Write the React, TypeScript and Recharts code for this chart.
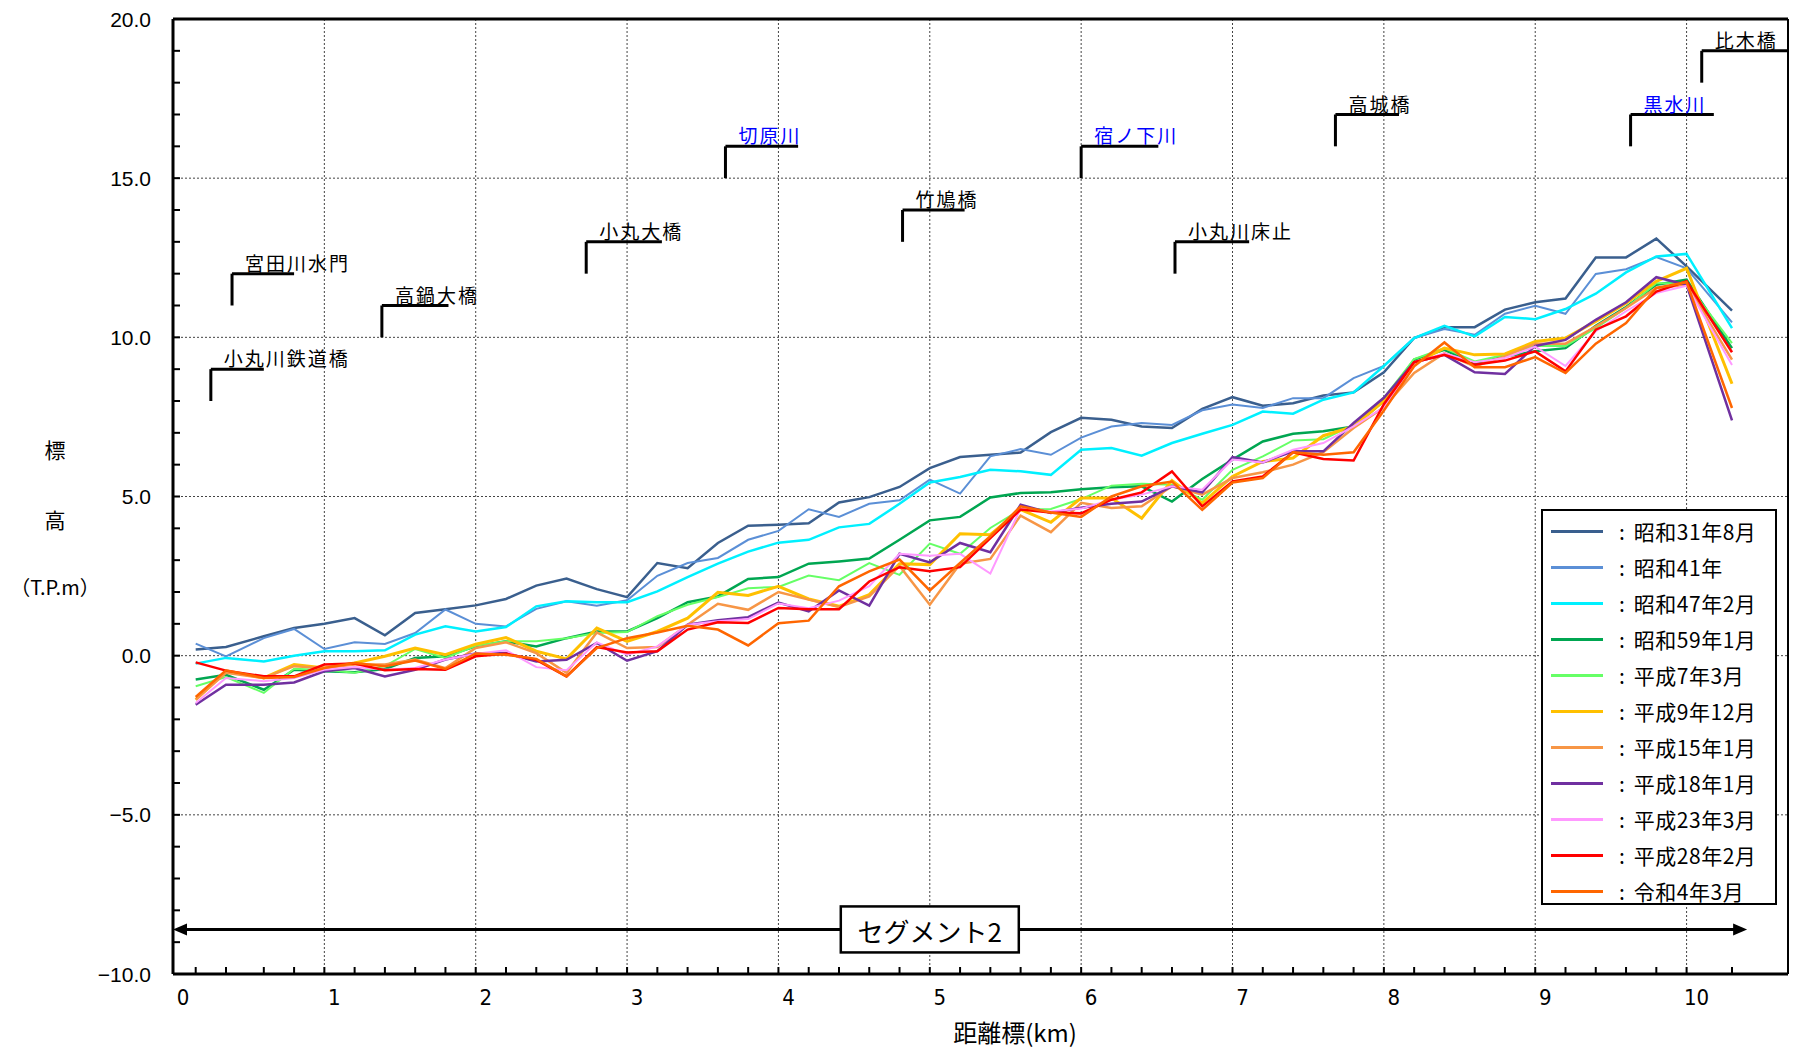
import {
  LineChart,
  Line,
  XAxis,
  YAxis,
  CartesianGrid,
  ReferenceLine,
  ReferenceDot,
} from 'recharts'

// distance marks (km) of the surveyed cross sections
const distances = [
  0.15, 0.35, 0.6, 0.8, 1.0, 1.2, 1.4, 1.6, 1.8, 2.0,
  2.2, 2.4, 2.6, 2.8, 3.0, 3.2, 3.4, 3.6, 3.8, 4.0,
  4.2, 4.4, 4.6, 4.8, 5.0, 5.2, 5.4, 5.6, 5.8, 6.0,
  6.2, 6.4, 6.6, 6.8, 7.0, 7.2, 7.4, 7.6, 7.8, 8.0,
  8.2, 8.4, 8.6, 8.8, 9.0, 9.2, 9.4, 9.6, 9.8, 10.0, 10.3,
]

const s31 = [
  0.19, 0.27, 0.61, 0.87, 1.0, 1.18, 0.64, 1.34, 1.46, 1.58,
  1.78, 2.2, 2.42, 2.09, 1.84, 2.91, 2.75, 3.54, 4.08, 4.11,
  4.16, 4.81, 4.98, 5.3, 5.89, 6.24, 6.31, 6.38, 7.02, 7.47,
  7.41, 7.2, 7.15, 7.75, 8.12, 7.85, 7.93, 8.17, 8.27, 8.9,
  9.98, 10.32, 10.32, 10.87, 11.1, 11.22, 12.51, 12.51, 13.1, 12.23, 10.84,
]
const s41 = [
  0.38, -0.02, 0.55, 0.84, 0.21, 0.42, 0.37, 0.71, 1.45, 1.0,
  0.92, 1.47, 1.71, 1.57, 1.74, 2.51, 2.91, 3.07, 3.64, 3.92,
  4.6, 4.36, 4.77, 4.88, 5.53, 5.09, 6.26, 6.49, 6.31, 6.85,
  7.2, 7.31, 7.25, 7.71, 7.89, 7.78, 8.09, 8.09, 8.72, 9.1,
  9.98, 10.26, 10.08, 10.74, 10.99, 10.74, 11.99, 12.14, 12.52, 12.17, 10.47,
]
const s47 = [
  -0.25, -0.07, -0.18, 0.0, 0.14, 0.14, 0.17, 0.66, 0.92, 0.76,
  0.9, 1.55, 1.71, 1.68, 1.68, 2.02, 2.47, 2.89, 3.27, 3.55,
  3.64, 4.03, 4.14, 4.77, 5.44, 5.61, 5.84, 5.79, 5.68, 6.47,
  6.52, 6.28, 6.68, 6.97, 7.25, 7.67, 7.6, 8.04, 8.27, 9.1,
  9.98, 10.36, 10.03, 10.64, 10.57, 10.89, 11.37, 12.04, 12.54, 12.62, 10.29,
]
const s59 = [
  -0.75, -0.6, -1.07, -0.44, -0.49, -0.52, -0.42, -0.07, -0.02, 0.29,
  0.45, 0.29, 0.55, 0.76, 0.76, 1.18, 1.68, 1.86, 2.41, 2.47,
  2.89, 2.96, 3.05, 3.64, 4.25, 4.36, 4.97, 5.11, 5.13, 5.23,
  5.29, 5.32, 4.84, 5.55, 6.16, 6.73, 6.97, 7.05, 7.2, 8.0,
  9.3, 9.61, 9.17, 9.4, 9.56, 9.66, 10.36, 10.95, 11.65, 11.81, 9.66,
]
const h7 = [
  -0.96, -0.67, -1.17, -0.41, -0.45, -0.54, -0.33, 0.21, -0.07, 0.31,
  0.45, 0.45, 0.55, 0.71, 0.74, 1.24, 1.6, 1.84, 2.12, 2.16,
  2.52, 2.37, 2.91, 2.54, 3.52, 3.2, 4.01, 4.59, 4.61, 4.92,
  5.34, 5.4, 5.37, 4.9, 5.84, 6.26, 6.76, 6.8, 7.25, 8.1,
  9.32, 9.66, 9.24, 9.45, 9.73, 9.73, 10.29, 10.92, 11.7, 11.7, 9.82,
]
const h9 = [
  -1.38, -0.49, -0.7, -0.28, -0.39, -0.23, -0.02, 0.24, 0.03, 0.36,
  0.57, 0.14, -0.1, 0.87, 0.45, 0.76, 1.18, 1.99, 1.89, 2.18,
  1.78, 1.55, 1.92, 2.89, 2.86, 3.83, 3.8, 4.59, 4.19, 4.95,
  4.95, 4.32, 5.5, 4.79, 5.63, 6.1, 6.21, 6.91, 7.2, 8.0,
  9.17, 9.66, 9.45, 9.48, 9.87, 9.98, 10.5, 11.07, 11.76, 12.17, 8.54,
]
const h15 = [
  -1.38, -0.54, -0.7, -0.33, -0.39, -0.28, -0.28, -0.12, -0.39, 0.24,
  0.42, 0.08, -0.54, 0.73, 0.24, 0.27, 0.97, 1.63, 1.44, 2.0,
  1.76, 1.53, 1.86, 2.82, 1.6, 2.89, 3.04, 4.4, 3.88, 4.8,
  4.64, 4.69, 5.32, 5.06, 5.58, 5.76, 6.0, 6.39, 7.15, 7.8,
  8.88, 9.5, 9.09, 9.4, 9.8, 9.8, 10.34, 10.92, 11.55, 11.65, 9.3,
]
const h18 = [
  -1.54, -0.91, -0.91, -0.84, -0.49, -0.39, -0.65, -0.44, -0.12, 0.07,
  0.08, -0.18, -0.13, 0.4, -0.16, 0.14, 0.97, 1.11, 1.21, 1.67,
  1.39, 2.05, 1.57, 3.2, 2.93, 3.54, 3.25, 4.74, 4.48, 4.65,
  4.77, 4.84, 5.32, 5.13, 6.24, 6.07, 6.42, 6.42, 7.31, 8.1,
  9.22, 9.45, 8.9, 8.85, 9.73, 9.92, 10.55, 11.1, 11.89, 11.65, 7.39,
]
const h23 = [
  -1.49, -0.7, -0.8, -0.7, -0.44, -0.36, -0.44, -0.39, -0.12, 0.06,
  0.17, -0.36, -0.46, 0.42, 0.03, 0.29, 0.97, 1.08, 1.15, 1.64,
  1.49, 1.73, 2.18, 3.2, 3.14, 3.2, 2.58, 4.63, 4.53, 4.62,
  4.9, 5.06, 5.32, 5.21, 6.16, 6.07, 6.47, 6.68, 7.2, 7.8,
  9.19, 9.5, 9.22, 9.35, 9.71, 9.1, 10.19, 10.82, 11.39, 11.62, 9.13,
]
const h28 = [
  -0.21, -0.47, -0.65, -0.65, -0.28, -0.25, -0.46, -0.42, -0.44, -0.02,
  0.06, -0.13, -0.65, 0.27, 0.1, 0.14, 0.82, 1.05, 1.03, 1.5,
  1.46, 1.46, 2.33, 2.78, 2.65, 2.78, 3.69, 4.59, 4.5, 4.47,
  4.9, 5.13, 5.79, 4.69, 5.47, 5.63, 6.39, 6.18, 6.13, 7.9,
  9.22, 9.45, 9.14, 9.27, 9.56, 8.93, 10.24, 10.66, 11.44, 11.76, 9.53,
]
const r4 = [
  -1.3, -0.46, -0.7, -0.67, -0.39, -0.23, -0.33, -0.15, -0.42, 0.07,
  0.03, -0.1, -0.65, 0.24, 0.55, 0.73, 0.94, 0.82, 0.32, 1.02,
  1.1, 2.18, 2.65, 3.02, 2.05, 2.91, 3.75, 4.69, 4.5, 4.36,
  5.0, 5.32, 5.47, 4.58, 5.44, 5.58, 6.39, 6.31, 6.39, 7.7,
  9.09, 9.84, 9.06, 9.06, 9.38, 8.88, 9.8, 10.45, 11.55, 11.73, 7.78,
]

const seriesKeys = ['s31', 's41', 's47', 's59', 'h7', 'h9', 'h15', 'h18', 'h23', 'h28', 'r4']
const seriesValues = [s31, s41, s47, s59, h7, h9, h15, h18, h23, h28, r4]
const seriesNames = [
  '昭和31年8月', '昭和41年', '昭和47年2月', '昭和59年1月', '平成7年3月', '平成9年12月',
  '平成15年1月', '平成18年1月', '平成23年3月', '平成28年2月', '令和4年3月',
]
const seriesColors = [
  '#3A5F8E', '#5B8FD6', '#00F0FF', '#00A651', '#66FF66', '#FFC000',
  '#F79646', '#7030A0', '#FF99FF', '#FF0000', '#FF6600',
]
const seriesWidths = [2.5, 2, 2.5, 2.5, 2, 3, 2.5, 2.5, 2, 2.5, 2.5]

// bridges / tributaries drawn as step leaders
const markNames = ['小丸川鉄道橋', '宮田川水門', '高鍋大橋', '小丸大橋', '切原川', '竹鳩橋', '宿ノ下川', '小丸川床止', '高城橋', '黒水川', '比木橋']
const markKm = [0.25, 0.39, 1.38, 2.73, 3.65, 4.82, 6.0, 6.62, 7.68, 9.63, 10.1]
const markEndKm = [0.6, 0.8, 1.82, 3.23, 4.13, 5.23, 6.51, 7.11, 8.1, 10.18, 10.67]
const markLow = [8, 11, 10, 12, 15, 13, 15, 12, 16, 16, 18]
const markHigh = [9, 12, 11, 13, 16, 14, 16, 13, 17, 17, 19]
const markIsRiver = [false, false, false, false, true, false, true, false, false, true, false]

const X_MAX = 10.67
const xTicks = [0, ...distances]
const yTicks = Array.from({ length: 31 }, (_, i) => i - 10)
const kmLines = [1, 2, 3, 4, 5, 6, 7, 8, 9, 10]
const levelLines = [-5, 0, 5, 10, 15]

const segmentLabel = 'セグメント2'
const segmentY = -8.6
const segmentFrom = 0
const segmentTo = 10.4
const segmentCenter = 5

const chartData = distances.map((x, i) => {
  const row: Record<string, number> = { x }
  seriesKeys.forEach((k, j) => {
    row[k] = seriesValues[j][i]
  })
  return row
})

const JP = '"Noto Sans CJK JP", sans-serif'

function XTick(props: any) {
  const { x, y, payload } = props
  const v = payload.value as number
  const major = Math.abs(v - Math.round(v)) < 1e-6
  return (
    <g>
      <line x1={x} x2={x} y1={y} y2={y - 7} stroke="#000" strokeWidth={2} />
      {major && (
        <text
          x={x + 10}
          y={y + 23}
          textAnchor="middle"
          dominantBaseline="central"
          fontFamily='"Liberation Sans Narrow", "DejaVu Sans Condensed", sans-serif'
          fontSize={22}
          fill="#000"
        >
          {v}
        </text>
      )}
    </g>
  )
}

function YTick(props: any) {
  const { x, y, payload } = props
  const v = payload.value as number
  const major = v % 5 === 0
  const text = (v < 0 ? '\u2212' : '') + Math.abs(v).toFixed(1)
  return (
    <g>
      <line x1={x} x2={x + 7} y1={y} y2={y} stroke="#000" strokeWidth={2} />
      {major && (
        <text
          x={x - 22}
          y={y}
          textAnchor="end"
          dominantBaseline="central"
          fontFamily='"Liberation Sans", Arial, sans-serif'
          fontSize={21}
          fill="#000"
        >
          {text}
        </text>
      )}
    </g>
  )
}

function SegmentArrow(props: any) {
  const { x1, x2, y1 } = props
  const y = y1
  return (
    <g>
      <line x1={x1 + 10} x2={x2 - 10} y1={y} y2={y} stroke="#000" strokeWidth={3} />
      <polygon points={`${x1},${y} ${x1 + 14},${y - 6} ${x1 + 14},${y + 6}`} fill="#000" />
      <polygon points={`${x2},${y} ${x2 - 14},${y - 6} ${x2 - 14},${y + 6}`} fill="#000" />
    </g>
  )
}

function SegmentBox(props: any) {
  const { cx, cy } = props
  return (
    <g>
      <rect x={cx - 89} y={cy - 23} width={178} height={46} fill="#fff" stroke="#000" strokeWidth={2.5} />
      <text
        x={cx}
        y={cy + 1}
        textAnchor="middle"
        dominantBaseline="central"
        fontFamily={JP}
        fontSize={26}
        fill="#000"
      >
        {segmentLabel}
      </text>
    </g>
  )
}

export default function App() {
  return (
    <div style={{ position: 'absolute', left: 0, top: 0, width: 1794, height: 1047, background: '#fff' }}>
      <LineChart
        width={1794}
        height={1047}
        data={chartData}
        margin={{ top: 19, right: 6, left: 93, bottom: 23 }}
      >
        <CartesianGrid
          stroke="#444"
          strokeDasharray="2 2"
          strokeWidth={1}
          verticalValues={kmLines}
          horizontalValues={levelLines}
        />
        <XAxis
          type="number"
          dataKey="x"
          domain={[0, X_MAX]}
          allowDataOverflow
          ticks={xTicks}
          interval={0}
          height={50}
          tickSize={0}
          tickMargin={0}
          tickLine={false}
          tick={<XTick />}
          axisLine={{ stroke: '#000', strokeWidth: 3 }}
        />
        <YAxis
          type="number"
          domain={[-10, 20]}
          allowDataOverflow
          ticks={yTicks}
          interval={0}
          width={80}
          tickSize={0}
          tickMargin={0}
          tickLine={false}
          tick={<YTick />}
          axisLine={{ stroke: '#000', strokeWidth: 3 }}
        />
        <ReferenceLine y={20} stroke="#000" strokeWidth={3} />
        <ReferenceLine x={X_MAX} stroke="#000" strokeWidth={2} />

        {seriesKeys.map((k, i) => (
          <Line
            key={k}
            type="linear"
            dataKey={k}
            stroke={seriesColors[i]}
            strokeWidth={seriesWidths[i]}
            dot={false}
            isAnimationActive={false}
          />
        ))}

        {markNames.map((name, i) => (
          <ReferenceLine
            key={`v-${name}`}
            segment={[
              { x: markKm[i], y: markLow[i] },
              { x: markKm[i], y: markHigh[i] },
            ]}
            stroke="#000"
            strokeWidth={3}
          />
        ))}
        {markNames.map((name, i) => (
          <ReferenceLine
            key={`h-${name}`}
            segment={[
              { x: markKm[i], y: markHigh[i] },
              { x: markEndKm[i], y: markHigh[i] },
            ]}
            stroke="#000"
            strokeWidth={3}
            label={(p: any) => (
              <text
                x={p.viewBox.x + 13}
                y={p.viewBox.y - 3}
                fontFamily={JP}
                fontSize={19}
                letterSpacing={2}
                fill={markIsRiver[i] ? '#0000FF' : '#000'}
              >
                {name}
              </text>
            )}
          />
        ))}

        <ReferenceLine
          segment={[
            { x: segmentFrom, y: segmentY },
            { x: segmentTo, y: segmentY },
          ]}
          shape={<SegmentArrow />}
        />
        <ReferenceDot x={segmentCenter} y={segmentY} r={0} shape={<SegmentBox />} />
      </LineChart>

      {/* y axis title */}
      <div style={{ position: 'absolute', left: 35, top: 434, width: 40, textAlign: 'center', fontFamily: JP, fontSize: 21 }}>標</div>
      <div style={{ position: 'absolute', left: 35, top: 504, width: 40, textAlign: 'center', fontFamily: JP, fontSize: 21 }}>高</div>
      <div style={{ position: 'absolute', left: 0, top: 572, width: 110, textAlign: 'center', fontFamily: JP, fontSize: 20 }}>（T.P.m）</div>

      {/* x axis title */}
      <div style={{ position: 'absolute', left: 915, top: 1014, width: 200, textAlign: 'center', fontFamily: JP, fontSize: 24 }}>距離標(km)</div>

      {/* legend */}
      <div
        style={{
          position: 'absolute',
          left: 1541,
          top: 509,
          width: 236,
          height: 396,
          boxSizing: 'border-box',
          border: '2.5px solid #000',
          background: '#fff',
        }}
      >
        {seriesNames.map((name, i) => (
          <div
            key={name}
            style={{
              position: 'absolute',
              left: 0,
              top: 2 + i * 36,
              height: 36,
              display: 'flex',
              alignItems: 'center',
              fontFamily: JP,
              fontSize: 21,
              whiteSpace: 'nowrap',
            }}
          >
            <div style={{ width: 52, height: 3, marginLeft: 8, background: seriesColors[i] }} />
            <span style={{ marginLeft: 16 }}>:</span>
            <span style={{ marginLeft: 9, letterSpacing: 0.5 }}>{name}</span>
          </div>
        ))}
      </div>
    </div>
  )
}
